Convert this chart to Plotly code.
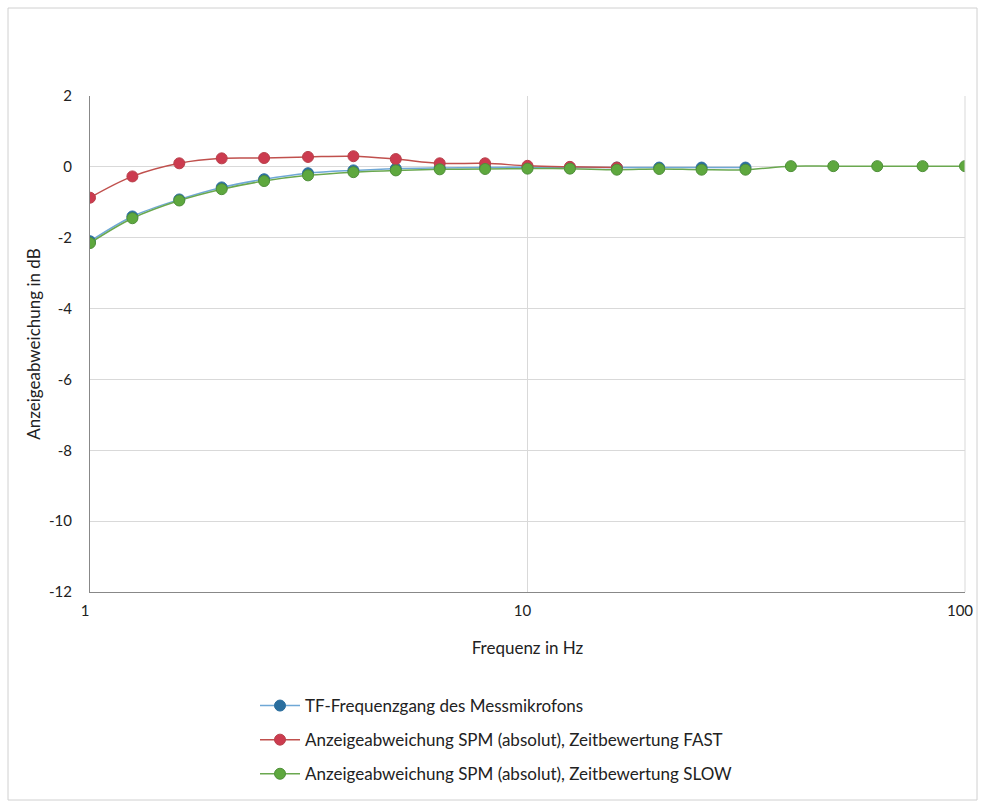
import plotly.graph_objects as go

freq = [1, 1.25, 1.6, 2, 2.5, 3.15, 4, 5, 6.3, 8, 10, 12.5, 16, 20, 25, 31.5, 40, 50, 63, 80, 100]

tf_freq = freq[:16]
tf_vals = [-2.1, -1.4, -0.92, -0.58, -0.35, -0.18, -0.1, -0.05, -0.03, -0.02, -0.01, -0.02, -0.02, -0.02, -0.02, -0.02]

fast_freq = freq[:13]
fast_vals = [-0.87, -0.27, 0.1, 0.24, 0.25, 0.28, 0.3, 0.22, 0.1, 0.1, 0.03, 0.0, -0.02]

slow_vals = [-2.15, -1.45, -0.95, -0.63, -0.4, -0.24, -0.15, -0.1, -0.07, -0.06, -0.05, -0.05, -0.08, -0.06, -0.08, -0.08, 0.02, 0.02, 0.02, 0.02, 0.02]

y_ticks = [-12, -10, -8, -6, -4, -2, 0, 2]
y_ticktext = ["-12", "-10", "-8", "-6", "-4", "-2", "0", "2"]
x_ticks = [1, 10, 100]
x_ticktext = ["1", "10", "100"]

names = ["TF-Frequenzgang des Messmikrofons",
         "Anzeigeabweichung SPM (absolut), Zeitbewertung FAST",
         "Anzeigeabweichung SPM (absolut), Zeitbewertung SLOW"]

font_family = "Lato, Open Sans, sans-serif"

W, H = 985, 807
L, R, T, B = 90, 20, 96, 215

fig = go.Figure()
fig.add_trace(go.Scatter(x=tf_freq, y=tf_vals, name=names[0], mode="lines+markers", legendgroup="g1",
                         line=dict(color="#6fa8d6", width=1.5, shape="spline"),
                         marker=dict(color="#2a6e9e", size=11, line=dict(color="#2a6e9e", width=1))))
fig.add_trace(go.Scatter(x=fast_freq, y=fast_vals, name=names[1], mode="lines+markers", legendgroup="g2",
                         line=dict(color="#c0504d", width=1.5, shape="spline"),
                         marker=dict(color="#cc3b4f", size=11, line=dict(color="#b8404a", width=1))))
fig.add_trace(go.Scatter(x=freq, y=slow_vals, name=names[2], mode="lines+markers", legendgroup="g3",
                         line=dict(color="#6aa84f", width=1.5, shape="spline"),
                         marker=dict(color="#5ea83e", size=11, line=dict(color="#4f8f3a", width=1))))

pw = W - L - R
ph = H - T - B

fig.update_layout(
    width=W, height=H,
    paper_bgcolor="white", plot_bgcolor="white",
    margin=dict(l=L, r=R, t=T, b=B),
    font=dict(family=font_family, size=14, color="#222222"),
    showlegend=True,
    legend=dict(x=(255 - 90) / pw, y=-(688 - 592) / ph, xanchor="left", yanchor="top",
                bgcolor="rgba(0,0,0,0)",
                font=dict(size=17, color="#222222"), tracegroupgap=9, itemwidth=40),
    xaxis=dict(type="log", range=[0, 2], tickvals=x_ticks, ticktext=x_ticktext,
               showgrid=True, gridcolor="#d9d9d9", gridwidth=1,
               showline=True, linecolor="#888888", linewidth=1,
               ticks="", zeroline=False, automargin=False, ticklabelstandoff=5,
               ticklabeloverflow="allow", ticklabelshift=-5,
               tickfont=dict(size=15),
               title=dict(text="Frequenz in Hz", font=dict(size=17), standoff=24)),
    yaxis=dict(range=[-12, 2], tickvals=y_ticks, ticktext=y_ticktext,
               showgrid=True, gridcolor="#d9d9d9", gridwidth=1,
               showline=True, linecolor="#888888", linewidth=1,
               ticks="", zeroline=False, ticklabelstandoff=14, automargin=False,
               tickfont=dict(size=15),
               title=dict(text="Anzeigeabweichung in dB", font=dict(size=17), standoff=4)),
    shapes=[
        dict(type="rect", xref="paper", yref="paper",
             x0=(8 - 90) / pw, x1=(977 - 90) / pw, y0=(592 - 800) / ph, y1=(592 - 8) / ph,
             line=dict(color="#d0d0d0", width=1), fillcolor="rgba(0,0,0,0)", layer="below"),
        dict(type="line", xref="paper", yref="paper", x0=1, x1=1, y0=0, y1=1,
             line=dict(color="#d9d9d9", width=1)),
    ],
)

fig.write_html("out.html", config={"displayModeBar": False},
               post_script="document.body.style.margin='0';document.body.style.overflow='hidden';")
